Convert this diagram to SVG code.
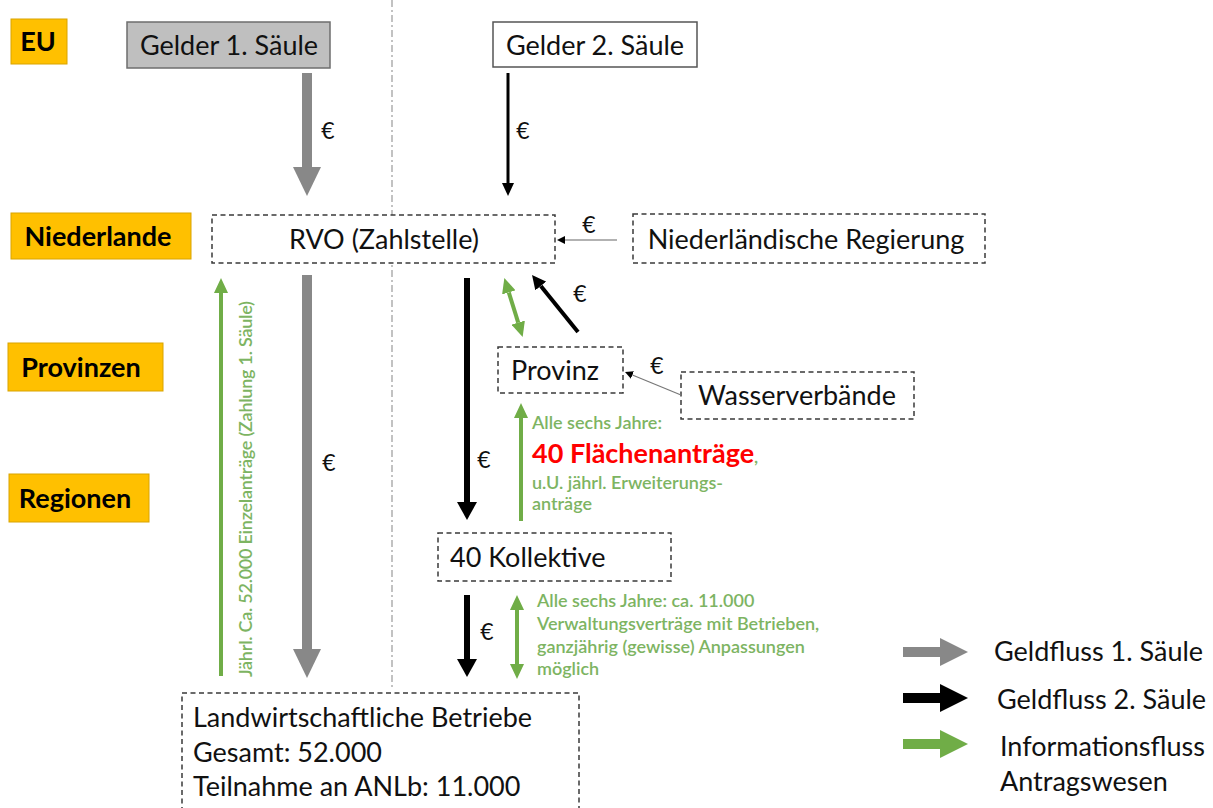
<svg xmlns="http://www.w3.org/2000/svg" width="1213" height="808" viewBox="0 0 1213 808">
<style>
.lvl{fill:#ffc000;stroke:#d9a400;stroke-width:1}
.lvlt{font-family:Lato,"Liberation Sans",sans-serif;font-weight:bold;font-size:27px;fill:#000}
.box{fill:#fff;stroke:#3a3a3a;stroke-width:1.5;stroke-dasharray:5 3.5}
.t{font-family:Lato,"Liberation Sans",sans-serif;font-size:27px;fill:#111}
.eur{font-family:Lato,"Liberation Sans",sans-serif;font-size:23px;fill:#111}
.g{font-family:Lato,"Liberation Sans",sans-serif;font-size:18px;fill:#7db462;font-weight:600}
.sep{stroke:#9a9a9a;stroke-width:1.2;stroke-dasharray:7 3 2 3;fill:none}
</style>
<defs>
<marker id="hGray" markerUnits="userSpaceOnUse" markerWidth="29" markerHeight="28" refX="0" refY="14" orient="auto"><path d="M0,0 L29,14 L0,28 z" fill="#888"/></marker>
<marker id="hBlkBig" markerUnits="userSpaceOnUse" markerWidth="18" markerHeight="20" refX="0" refY="10" orient="auto"><path d="M0,0 L18,10 L0,20 z" fill="#000"/></marker>
<marker id="hBlkMid" markerUnits="userSpaceOnUse" markerWidth="14" markerHeight="14" refX="0" refY="7" orient="auto"><path d="M0,0 L14,7 L0,14 z" fill="#000"/></marker>
<marker id="hBlkSm" markerUnits="userSpaceOnUse" markerWidth="13" markerHeight="12" refX="0" refY="6" orient="auto"><path d="M0,0 L13,6 L0,12 z" fill="#000"/></marker>
<marker id="hTiny" markerUnits="userSpaceOnUse" markerWidth="8" markerHeight="8" refX="0" refY="4" orient="auto"><path d="M0,0 L8,4 L0,8 z" fill="#000"/></marker>
<marker id="hGreen" markerUnits="userSpaceOnUse" markerWidth="15" markerHeight="14" refX="0" refY="7" orient="auto-start-reverse"><path d="M0,0 L15,7 L0,14 z" fill="#70ad47"/></marker>
<marker id="hLeg" markerUnits="userSpaceOnUse" markerWidth="28" markerHeight="28" refX="0" refY="14" orient="auto"><path d="M0,0 L28,14 L0,28 z" fill="context-stroke"/></marker>
</defs>

<line class="sep" x1="392" y1="0" x2="392" y2="690"/>

<g id="level-eu"><rect class="lvl" x="11" y="19" width="56" height="45"/><text class="lvlt" x="38" y="51" text-anchor="middle">EU</text></g>
<g id="level-nl"><rect class="lvl" x="11" y="213" width="180" height="46"/><text class="lvlt" x="98" y="246" text-anchor="middle">Niederlande</text></g>
<g id="level-prov"><rect class="lvl" x="8" y="343" width="155" height="48"/><text class="lvlt" x="81" y="377" text-anchor="middle">Provinzen</text></g>
<g id="level-reg"><rect class="lvl" x="9" y="474" width="140" height="48"/><text class="lvlt" x="75" y="508" text-anchor="middle">Regionen</text></g>

<g id="gelder1"><rect x="127" y="22" width="203" height="46" fill="#bfbfbf" stroke="#6e6e6e" stroke-width="1.5"/><text class="t" x="229" y="55" text-anchor="middle">Gelder 1. Säule</text></g>
<g id="gelder2"><rect x="493" y="22" width="204" height="45" fill="#fff" stroke="#555" stroke-width="1.5"/><text class="t" x="595" y="55" text-anchor="middle">Gelder 2. Säule</text></g>
<g id="rvo"><rect class="box" x="212" y="215" width="343" height="48"/><text class="t" x="384" y="249" text-anchor="middle">RVO (Zahlstelle)</text></g>
<g id="regierung"><rect class="box" x="633" y="214" width="352" height="49"/><text class="t" x="806" y="249" text-anchor="middle">Niederländische Regierung</text></g>
<g id="provinz"><rect class="box" x="498" y="347" width="125" height="46"/><text class="t" x="555" y="380" text-anchor="middle">Provinz</text></g>
<g id="wasser"><rect class="box" x="681" y="372" width="233" height="47"/><text class="t" x="797" y="405" text-anchor="middle">Wasserverbände</text></g>
<g id="kollektive"><rect class="box" x="438" y="533" width="233" height="48"/><text class="t" x="450" y="567">40 Kollektive</text></g>
<g id="betriebe"><rect class="box" x="182" y="693" width="397" height="130"/>
<text class="t" x="193" y="727">Landwirtschaftliche Betriebe</text>
<text class="t" x="193" y="762">Gesamt: 52.000</text>
<text class="t" x="193" y="796">Teilnahme an ANLb: 11.000</text></g>

<g id="connectors">
<path d="M307,73 V167" stroke="#888" stroke-width="10" marker-end="url(#hGray)"/>
<path d="M508,73 V183" stroke="#000" stroke-width="3" marker-end="url(#hBlkSm)"/>
<path d="M617,240 H565" stroke="#999" stroke-width="1.5" marker-end="url(#hTiny)"/>
<path d="M307,275 V649" stroke="#888" stroke-width="10" marker-end="url(#hGray)"/>
<path d="M221,676 V293" stroke="#70ad47" stroke-width="4" marker-end="url(#hGreen)"/>
<path d="M467,278 V502" stroke="#000" stroke-width="6" marker-end="url(#hBlkBig)"/>
<path d="M467,595 V659" stroke="#000" stroke-width="6" marker-end="url(#hBlkBig)"/>
<path d="M508.8,292.4 L518.2,322.6" stroke="#70ad47" stroke-width="4" marker-start="url(#hGreen)" marker-end="url(#hGreen)"/>
<path d="M578,332 L540.8,285.9" stroke="#000" stroke-width="4" marker-end="url(#hBlkMid)"/>
<path d="M681,395 L632.4,375" stroke="#777" stroke-width="1.2" marker-end="url(#hTiny)"/>
<path d="M521,521 V418" stroke="#70ad47" stroke-width="4" marker-end="url(#hGreen)"/>
<path d="M517,610 V664" stroke="#70ad47" stroke-width="4" marker-start="url(#hGreen)" marker-end="url(#hGreen)"/>
<text class="eur" x="328" y="139" text-anchor="middle">€</text>
<text class="eur" x="523" y="139" text-anchor="middle">€</text>
<text class="eur" x="589" y="233" text-anchor="middle">€</text>
<text class="eur" x="580" y="302" text-anchor="middle">€</text>
<text class="eur" x="657" y="374" text-anchor="middle">€</text>
<text class="eur" x="329" y="471" text-anchor="middle">€</text>
<text class="eur" x="484" y="468" text-anchor="middle">€</text>
<text class="eur" x="487" y="640" text-anchor="middle">€</text>
<text class="g" transform="translate(252,489) rotate(-90)" text-anchor="middle" font-size="17" textLength="376">Jährl. Ca. 52.000 Einzelanträge (Zahlung 1. Säule)</text>
<text class="g" x="532" y="429">Alle sechs Jahre:</text>
<text x="532" y="463" font-family="Lato,'Liberation Sans',sans-serif" font-weight="bold" font-size="27" fill="#ff0000">40 Flächenanträge<tspan fill="#7db462" font-size="18" font-weight="600">,</tspan></text>
<text class="g" x="532" y="489">u.U. jährl. Erweiterungs-</text>
<text class="g" x="532" y="510">anträge</text>
<text class="g" x="537" y="607">Alle sechs Jahre: ca. 11.000</text>
<text class="g" x="537" y="630">Verwaltungsverträge mit Betrieben,</text>
<text class="g" x="537" y="653">ganzjährig (gewisse) Anpassungen</text>
<text class="g" x="537" y="675">möglich</text>
</g>

<g id="legend">
<path d="M903,652 H940" stroke="#888" stroke-width="10" marker-end="url(#hLeg)"/>
<path d="M903,698 H940" stroke="#000" stroke-width="10" marker-end="url(#hLeg)"/>
<path d="M903,744 H940" stroke="#70ad47" stroke-width="10" marker-end="url(#hLeg)"/>
<text class="t" x="994" y="661">Geldfluss 1. Säule</text>
<text class="t" x="997" y="709">Geldfluss 2. Säule</text>
<text class="t" x="1000" y="756">Informationsfluss</text>
<text class="t" x="1000" y="791">Antragswesen</text>
</g>
</svg>
